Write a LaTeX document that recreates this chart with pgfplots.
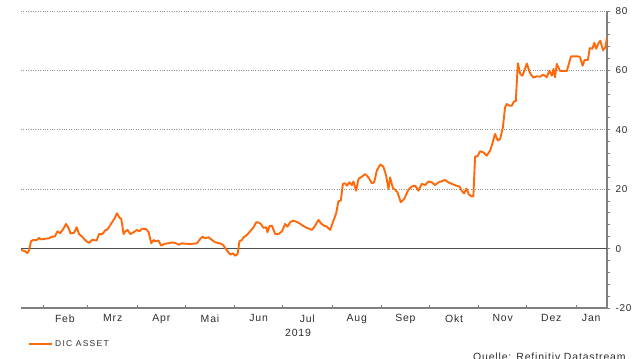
\documentclass[border=0pt]{standalone}
\usepackage{pgfplots}
\pgfplotsset{compat=1.18}
\usepackage{fontspec}
\setmainfont{Liberation Sans}[LetterSpace=8]
\definecolor{dicorange}{RGB}{255,105,10}
\definecolor{gridgray}{RGB}{150,150,150}
\definecolor{axgray}{RGB}{128,128,128}
\definecolor{txt}{RGB}{45,45,45}
\begin{document}
\begin{tikzpicture}[x=1bp,y=1bp]
\path[use as bounding box] (0,0) rectangle (640,-358);
\begin{axis}[
  at={(21bp,-308bp)}, anchor=south west,
  width=586bp, height=297bp, scale only axis,
  xmin=17, xmax=384.4, ymin=-20, ymax=80,
  axis x line*=bottom, axis y line*=right,
  axis line style={axgray, line width=1.5bp},
  xtick={31,59,90,120,151,181,212,243,273,304,334,365},
  xticklabels={},
  extra x ticks={44.5,74.5,105,135.5,166,196.5,227.5,258,288.5,319,349.5,374.5},
  extra x tick labels={Feb,Mrz,Apr,Mai,Jun,Jul,Aug,Sep,Okt,Nov,Dez,Jan},
  extra x tick style={major tick length=0pt, grid=none},
  ytick={-20,0,20,40,60,80}, minor y tick num=4,
  ymajorgrids, grid style={gridgray, dotted, line width=0.8bp},
  tick align=outside, major tick length=3bp, minor tick length=3bp,
  tick style={axgray, line width=1bp},
  every major x tick/.append style={yshift=3bp},
  /pgf/number format/assume math mode=true,
  yticklabel style={font=\fontsize{10}{11}\selectfont, text=txt, anchor=west, xshift=2bp},
  xticklabel style={font=\fontsize{10.5}{12}\selectfont, text=txt, yshift=-3bp},
  legend style={at={(0.012,-0.121)}, anchor=west, draw=none, fill=none,
    inner sep=0pt, font=\fontsize{8.5}{9}\selectfont\addfontfeature{LetterSpace=15}, text=txt},
  legend image code/.code={\draw[#1] (0bp,0bp) -- (23bp,0bp);},
]
\addplot[black!70, line width=1bp, forget plot] coordinates {(17,0) (384.4,0)};
\addplot[dicorange, line width=1.9bp, line join=round] coordinates {
(17.0,-0.4) (19.5,-0.9) (21.0,-1.5) (22.0,-0.7) (23.3,2.5) (24.7,2.9) (26.8,2.9) (28.3,3.6)
(29.6,3.1) (32.1,3.3) (34.6,3.5) (36.2,4.0) (38.3,4.1) (39.8,5.8) (41.5,5.2) (43.5,6.6)
(45.2,8.3) (46.7,7.0) (48.1,5.1) (50.2,5.3) (51.9,7.2) (53.4,4.9) (55.4,4.0) (57.5,2.7)
(59.6,1.9) (61.7,3.0) (64.4,2.7) (65.9,4.9) (68.0,4.9) (69.7,6.1) (71.3,6.5) (73.4,8.3)
(75.5,10.0) (77.2,11.9) (78.6,10.5) (79.9,10.0) (81.3,4.9) (82.4,5.8) (83.8,6.3) (85.5,4.9)
(87.6,5.5) (89.7,6.3) (91.2,5.8) (92.8,6.7) (95.4,6.6) (97.0,5.5) (98.7,1.8) (100.1,2.9)
(101.2,2.5) (103.2,2.7) (104.9,1.0) (107.0,1.6) (109.5,1.8) (112.0,2.1) (114.2,1.8) (115.8,1.3)
(117.9,1.8) (121.0,1.6) (124.2,1.6) (127.3,1.8) (129.4,3.3) (130.8,4.0) (132.5,3.5) (134.6,3.8)
(136.7,2.9) (138.8,2.1) (141.5,1.8) (143.6,1.3) (145.0,0.2) (146.5,-0.9) (148.2,-2.0) (149.9,-1.6)
(151.3,-2.4) (152.8,-1.8) (154.0,2.5) (155.5,2.9) (156.5,3.8) (158.2,4.4) (159.6,5.2) (161.1,6.1)
(162.8,7.2) (164.5,8.9) (165.9,8.8) (167.4,8.3) (169.0,7.0) (170.7,7.2) (171.5,5.5) (172.8,7.6)
(174.3,7.7) (176.4,4.9) (178.4,4.9) (180.6,5.8) (182.6,8.3) (184.1,7.4) (185.8,8.9) (187.5,9.4)
(189.5,9.1) (191.6,8.5) (193.7,7.7) (196.2,7.0) (199.4,6.3) (201.4,7.7) (203.5,9.7) (205.0,8.5)
(207.1,7.7) (208.8,7.4) (210.8,6.3) (212.9,9.4) (214.6,11.9) (216.0,15.9) (217.5,16.2) (218.8,21.8)
(220.2,22.0) (221.3,21.2) (222.9,22.3) (224.4,21.4) (225.4,22.6) (227.1,19.5) (228.6,23.5) (230.7,24.2)
(232.8,25.1) (234.8,24.0) (237.0,22.0) (238.4,22.3) (240.1,26.3) (242.2,28.3) (244.2,27.6) (245.9,24.6)
(247.4,20.1) (248.4,24.0) (250.1,20.5) (251.6,19.8) (253.0,19.0) (255.1,15.6) (257.2,16.7) (259.9,19.8)
(262.0,20.9) (264.1,21.2) (266.2,19.5) (268.3,21.8) (270.4,21.4) (272.4,22.6) (274.6,22.3) (276.6,21.4)
(278.7,22.3) (280.8,22.7) (282.9,23.1) (285.0,22.3) (287.1,21.8) (289.8,21.2) (291.9,20.9) (293.4,19.4)
(294.8,18.6) (296.3,20.2) (297.8,18.2) (299.5,17.6) (300.6,17.6) (301.7,31.0) (303.3,31.1) (304.8,32.8)
(306.9,32.4) (309.0,31.3) (311.1,33.0) (312.5,35.3) (314.2,38.6) (315.9,36.4) (317.4,36.9) (319.1,40.8)
(320.5,47.6) (321.6,48.7) (323.2,48.1) (324.7,48.1) (326.1,49.6) (327.2,49.6) (328.5,62.4) (330.0,58.8)
(331.3,58.2) (332.6,59.9) (334.1,62.3) (336.2,59.0) (338.2,57.6) (340.3,58.0) (342.4,57.9) (344.5,58.6)
(346.6,57.7) (348.3,59.9) (349.8,58.2) (350.8,60.5) (351.8,57.7) (352.9,62.2) (355.0,59.8) (359.2,59.8)
(361.8,64.7) (366.4,64.7) (367.5,64.4) (369.1,61.6) (370.3,63.5) (372.4,63.5) (373.6,67.5) (375.3,67.3)
(376.4,69.3) (377.6,67.3) (379.0,69.1) (380.2,70.0) (381.9,66.8) (383.4,67.8) (384.4,71.1)
};
\addlegendentry{DIC ASSET}
\end{axis}
\node[font=\fontsize{10.5}{12}\selectfont, text=txt] at (298bp,-333bp) {2019};
\node[anchor=base west, inner sep=0pt, font=\fontsize{10.5}{12}\selectfont, text=txt] at (473bp,-360bp) {Quelle: Refinitiv Datastream};
\end{tikzpicture}
\end{document}
